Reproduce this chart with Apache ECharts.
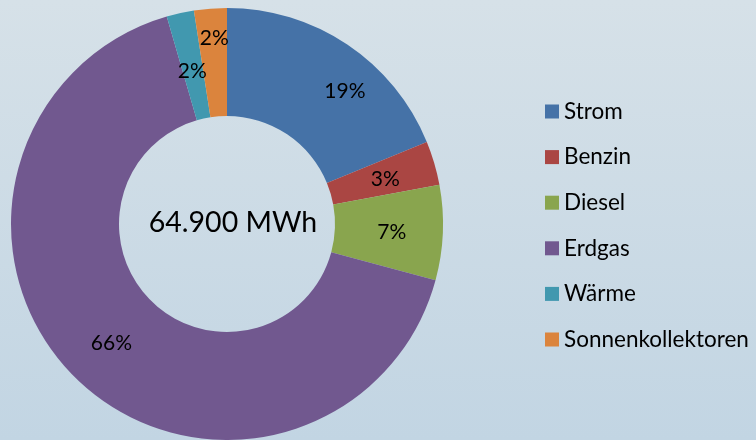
<!DOCTYPE html>
<html>
<head>
<meta charset="utf-8">
<script src="https://cdn.jsdelivr.net/npm/echarts@6/dist/echarts.min.js"></script>
<style>
  html, body { margin: 0; padding: 0; }
  #chart { width: 756px; height: 440px; }
</style>
</head>
<body>
<div id="chart"></div>
<script>
// Energieverbrauch nach Energieträger (Anteile in %)
var categories = ['Strom', 'Benzin', 'Diesel', 'Erdgas', 'Wärme', 'Sonnenkollektoren']
var shares = [18.8, 3.3, 7.1, 66.3, 2.05, 2.45]
var colors = ['#4572A7', '#AA4643', '#89A54E', '#71588F', '#4198AF', '#DB843D']
var totalLabel = '64.900 MWh'
// small nudges of the percentage labels, like the original
var labelOffsets = [[26, 4], [0, 2], [0, 1], [0, 1], [1, 8], [0, -21]]

var pieData = categories.map(function (name, i) {
  return {
    name: name,
    value: shares[i],
    itemStyle: { color: colors[i] },
    label: { offset: labelOffsets[i] }
  }
})

var myChart = echarts.init(document.getElementById('chart'))
var option = {
  backgroundColor: new echarts.graphic.LinearGradient(0, 0, 0, 1, [
    { offset: 0, color: '#d6e1e8' },
    { offset: 1, color: '#c2d5e3' }
  ]),
  animation: false,
  textStyle: { fontFamily: 'Lato' },
  title: {
    text: totalLabel,
    left: 228,
    top: 218,
    textAlign: 'center',
    textVerticalAlign: 'middle',
    textStyle: { fontSize: 28.5, fontWeight: 'normal', color: '#000', fontFamily: 'Lato' }
  },
  legend: {
    orient: 'vertical',
    left: 540,
    top: 95,
    icon: 'rect',
    itemWidth: 14,
    itemHeight: 14,
    itemGap: 22.6,
    textStyle: { fontSize: 22.5, color: '#000', fontFamily: 'Lato' },
    data: categories
  },
  series: [
    {
      type: 'pie',
      center: [227, 224],
      radius: [108, 216],
      startAngle: 90,
      clockwise: true,
      avoidLabelOverlap: false,
      labelLayout: { hideOverlap: false },
      label: {
        show: true,
        position: 'inside',
        formatter: function (p) { return Math.round(p.value) + '%' },
        fontSize: 21,
        color: '#000',
        fontFamily: 'Lato'
      },
      labelLine: { show: false },
      emphasis: { disabled: true },
      data: pieData
    }
  ]
}
myChart.setOption(option)
</script>
</body>
</html>
